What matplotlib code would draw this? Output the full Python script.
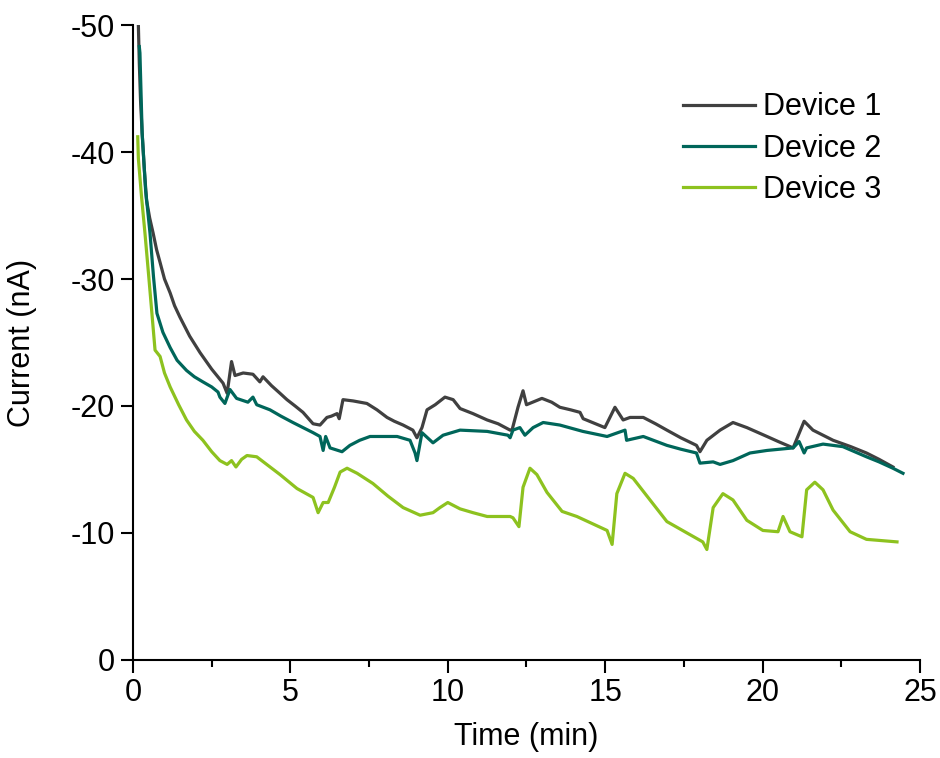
import numpy as np
import matplotlib
matplotlib.use("Agg")
import matplotlib.pyplot as plt
from matplotlib.ticker import MultipleLocator

plt.rcParams["font.family"] = ["Liberation Sans", "DejaVu Sans"]
plt.rcParams["font.size"] = 22
plt.rcParams["axes.unicode_minus"] = False

# values (time in min, current in nA)
t1 = [0.15, 0.2, 0.24, 0.29, 0.36, 0.43, 0.53, 0.64, 0.75, 0.86, 1.0, 1.18, 1.32,
      1.49, 1.8, 2.13, 2.5, 2.86, 2.99, 3.13, 3.24, 3.5, 3.81, 4.03, 4.13, 4.4,
      4.67, 4.89, 5.15, 5.4, 5.72, 5.94, 6.16, 6.3, 6.48, 6.55, 6.67, 6.99, 7.43,
      7.75, 8.07, 8.3, 8.58, 8.89, 9.02, 9.18, 9.34, 9.6, 9.91, 10.17, 10.39, 10.8,
      11.25, 11.6, 11.98, 12.04, 12.23, 12.39, 12.5, 12.99, 13.3, 13.56, 13.9, 14.2,
      14.3, 14.4, 14.99, 15.31, 15.57, 15.79, 16.21, 16.6, 16.96, 17.4, 17.9, 18.01,
      18.23, 18.65, 19.06, 19.5, 20.14, 20.5, 20.97, 21.32, 21.6, 22.24, 22.8,
      23.3, 23.7, 24.14]
i1 = [-52, -47, -44, -41.5, -38.6, -36.2, -34.8, -33.6, -32.3, -31.3, -30.0, -28.9,
      -27.9, -27.0, -25.5, -24.2, -22.9, -21.8, -21.0, -23.5, -22.4, -22.6, -22.5,
      -21.9, -22.3, -21.6, -21.0, -20.5, -20.0, -19.5, -18.6, -18.5, -19.1, -19.2,
      -19.4, -19.0, -20.5, -20.4, -20.2, -19.7, -19.1, -18.8, -18.5, -18.1, -17.5,
      -18.3, -19.7, -20.1, -20.7, -20.5, -19.8, -19.4, -18.9, -18.6, -18.1, -18.1,
      -19.9, -21.2, -20.1, -20.6, -20.3, -19.9, -19.7, -19.5, -19.0, -18.9, -18.3,
      -19.9, -18.9, -19.1, -19.1, -18.6, -18.1, -17.5, -16.9, -16.4, -17.3, -18.1,
      -18.7, -18.3, -17.6, -17.2, -16.7, -18.8, -18.1, -17.3, -16.8, -16.3, -15.8,
      -15.2]

t2 = [0.2, 0.22, 0.29, 0.4, 0.54, 0.65, 0.76, 0.95, 1.18, 1.4, 1.7, 1.95, 2.22, 2.5,
      2.7, 2.76, 2.92, 3.08, 3.29, 3.65, 3.81, 3.93, 4.35, 4.7, 5.08, 5.4, 5.72,
      5.94, 6.04, 6.12, 6.26, 6.64, 6.89, 7.2, 7.53, 8.0, 8.39, 8.8, 8.96, 9.02,
      9.18, 9.53, 9.85, 10.39, 11.25, 11.91, 11.98, 12.07, 12.29, 12.45, 12.71,
      13.03, 13.56, 14.29, 15.06, 15.63, 15.68, 16.21, 16.96, 17.4, 17.9, 18.01,
      18.43, 18.65, 19.06, 19.6, 20.14, 20.97, 21.16, 21.32, 21.4, 21.92, 22.55,
      23.3, 23.7, 24.14, 24.46]
i2 = [-48.3, -47.8, -41.5, -37.0, -33.6, -30.2, -27.3, -25.8, -24.6, -23.6, -22.8,
      -22.3, -21.9, -21.5, -21.1, -20.7, -20.2, -21.3, -20.6, -20.3, -20.7, -20.1,
      -19.7, -19.2, -18.7, -18.3, -17.9, -17.6, -16.5, -17.6, -16.7, -16.4, -16.9,
      -17.3, -17.6, -17.6, -17.6, -17.3, -16.3, -15.7, -17.9, -17.1, -17.7, -18.1,
      -18.0, -17.7, -17.5, -18.1, -18.3, -17.7, -18.3, -18.7, -18.5, -18.0, -17.6,
      -18.1, -17.3, -17.6, -16.9, -16.6, -16.3, -15.5, -15.6, -15.4, -15.7, -16.3,
      -16.5, -16.7, -17.2, -16.3, -16.7, -17.0, -16.8, -16.0, -15.6, -15.1, -14.7]

t3 = [0.15, 0.17, 0.27, 0.38, 0.5, 0.6, 0.7, 0.86, 1.0, 1.18, 1.45, 1.7, 1.95, 2.22,
      2.5, 2.76, 2.99, 3.13, 3.27, 3.45, 3.62, 3.93, 4.3, 4.67, 5.21, 5.72, 5.88,
      6.04, 6.2, 6.4, 6.58, 6.8, 7.12, 7.62, 8.1, 8.58, 9.12, 9.53, 9.75, 10.0,
      10.39, 10.8, 11.25, 11.98, 12.07, 12.26, 12.39, 12.61, 12.83, 13.15, 13.63,
      14.1, 15.06, 15.22, 15.37, 15.63, 15.89, 16.33, 16.96, 17.6, 18.1, 18.23,
      18.43, 18.74, 19.06, 19.5, 20.01, 20.49, 20.65, 20.87, 21.25, 21.4, 21.66,
      21.92, 22.24, 22.78, 23.3, 24.27]
i3 = [-41.2, -39.5, -36.5, -33.6, -30.2, -27.3, -24.4, -23.9, -22.6, -21.5, -20.1,
      -18.9, -18.0, -17.3, -16.4, -15.7, -15.4, -15.7, -15.2, -15.8, -16.1, -16.0,
      -15.3, -14.6, -13.5, -12.8, -11.6, -12.4, -12.4, -13.6, -14.8, -15.1, -14.7,
      -13.9, -12.9, -12.0, -11.4, -11.6, -12.0, -12.4, -11.9, -11.6, -11.3, -11.3,
      -11.2, -10.5, -13.6, -15.1, -14.6, -13.2, -11.7, -11.3, -10.2, -9.1, -13.1,
      -14.7, -14.3, -12.9, -10.9, -10.0, -9.3, -8.7, -12.0, -13.1, -12.6, -11.0,
      -10.2, -10.1, -11.3, -10.1, -9.7, -13.4, -14.0, -13.4, -11.8, -10.1, -9.5,
      -9.3]

labels = ["Device 1", "Device 2", "Device 3"]
colors = ["#404040", "#00665a", "#8dc21f"]

fig = plt.figure(figsize=(9.4, 7.58), dpi=100)
ax = fig.add_axes([0.1415, 0.1293, 0.8372, 0.8377])

for t, cur, lab, c in zip([t1, t2, t3], [i1, i2, i3], labels, colors):
    ax.plot(t, cur, color=c, lw=2.3, label=lab)

ax.set_xlim(0, 25)
ax.set_ylim(0, -50)
ax.xaxis.set_major_locator(MultipleLocator(5))
ax.xaxis.set_minor_locator(MultipleLocator(2.5))
ax.yaxis.set_major_locator(MultipleLocator(10))

for s in ["top", "right"]:
    ax.spines[s].set_visible(False)
for s in ["left", "bottom"]:
    ax.spines[s].set_linewidth(1.5)
ax.tick_params(which="major", length=9, width=1.5, direction="out", pad=4)
ax.tick_params(which="minor", length=5, width=1.5, direction="out")

ax.set_xlabel("Time (min)", labelpad=10)
ax.set_ylabel("Current (nA)", labelpad=24)

ax.legend(loc="upper left", bbox_to_anchor=(0.699, 0.894), frameon=False,
          handlelength=2.36, labelspacing=0.37, borderpad=0, borderaxespad=0,
          handletextpad=0.26, fontsize=22)

fig.savefig("out.png", dpi=100)
